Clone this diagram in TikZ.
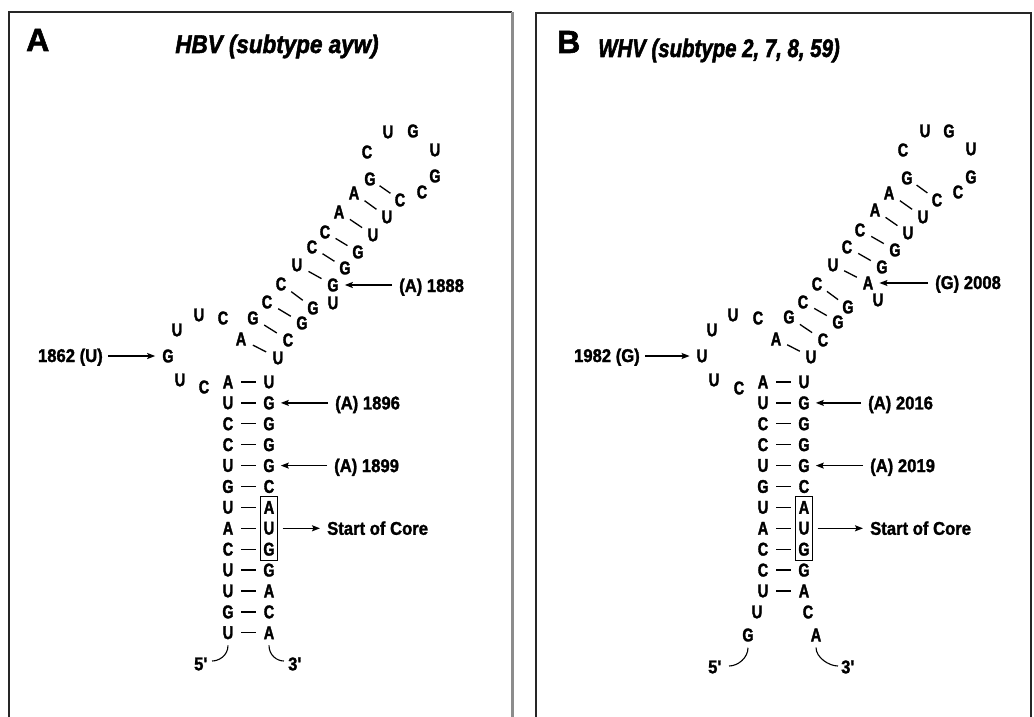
\documentclass[tikz,border=0pt]{standalone}
\usepackage{fontspec}
\setmainfont{Liberation Sans}
\newfontfamily\ntfont{Liberation Sans Bold}[FakeStretch=0.78,FakeBold=1.8]
\newfontfamily\lblfont{Liberation Sans Bold}[FakeStretch=0.9,FakeBold=1.5]
\newfontfamily\ttlfont{Liberation Sans Bold Italic}[FakeStretch=0.88,FakeBold=2]
\newfontfamily\ttlfontb{Liberation Sans Bold Italic}[FakeStretch=0.8,FakeBold=2]
\newfontfamily\tagfont{Liberation Sans Bold}[FakeBold=1.8]
\usetikzlibrary{calc,fit,arrows.meta}

\tikzset{
  nt/.style={inner sep=0pt, font=\ntfont\fontsize{18.5}{18.5}\selectfont},
  lbl/.style={inner sep=0pt, font=\lblfont\fontsize{18.5}{18.5}\selectfont},
  ttl/.style={inner sep=0pt, anchor=base, font=\ttlfont\fontsize{25.5}{25.5}\selectfont},
  ttlb/.style={ttl, font=\ttlfontb\fontsize{25.5}{25.5}\selectfont},
  panel/.style={inner sep=0pt, anchor=base west, font=\tagfont\fontsize{32}{32}\selectfont},
  frame/.style={line width=1.2pt, black!85},
  bond/.style={line width=1.3pt},
  arr/.style={line width=1.3pt, -{Stealth[length=8pt,width=6pt,inset=1.5pt]},
              shorten <=7pt, shorten >=6pt},
  tail/.style={line width=1.1pt},
  corebox/.style={draw, line width=0.8pt, inner xsep=2.5pt, inner ysep=4pt},
}
\newcommand\basepair[2]{\draw[bond] ($(#1)!0.32!(#2)$) -- ($(#1)!0.68!(#2)$);}

\begin{document}
\begin{tikzpicture}[x=1pt,y=-1pt]
\useasboundingbox (0,0) rectangle (1034,717);

% ---------- frames ----------
\draw[frame] (9,717) -- (9,12) -- (512,12);
\draw[line width=2.5pt, black!45] (512.5,12) -- (512.5,717);
\draw[frame] (536,717) -- (536,13) -- (1031,13) -- (1031,717);

% ---------- panel A : HBV ----------
\node[panel] (tagA) at (26,51) {A};
\node[ttl] (ttlA) at (277,53) {HBV (subtype ayw)};

% lower stem
\foreach \i/\l/\r in {0/A/U,1/U/G,2/C/G,3/C/G,4/U/G,5/G/C,6/U/A,7/A/U,8/C/G,9/U/G,10/U/A,11/G/C,12/U/A}{
  \node[nt] (aL\i) at (228,382+20.9*\i) {\l};
  \node[nt] (aR\i) at (269,382+20.9*\i) {\r};
  \basepair{aL\i}{aR\i}
}
% internal loop
\foreach \n/\x/\y/\t in {1/223/318/C,2/199/315/U,3/177/330/U,4/168/356/G,5/180/380/U,6/204/387/C}
  \node[nt] (aI\n) at (\x,\y) {\t};
% upper helix
\foreach \n/\x/\y/\t in {1/241/339/A,2/253/318/G,3/267/302/C,4/281/284/C,5/297/265/U,
                          6/312/247/C,7/325/232/C,8/339/212/A,9/354/193/A,10/370/179/G}
  \node[nt] (aH\n) at (\x,\y) {\t};
\foreach \n/\x/\y/\t in {1/278/358/U,2/288/340/C,3/302/323/G,4/313/308/G,5/333/285/G,
                          6/345/268/G,7/358/252/G,8/373/235/U,9/387/217/U,10/400/200/C}
  \node[nt] (aK\n) at (\x,\y) {\t};
\node[nt] (aKb) at (333,303) {U};
\foreach \n in {1,...,10} { \basepair{aH\n}{aK\n} }
% hairpin loop
\foreach \n/\x/\y/\t in {1/367/152/C,2/388/132/U,3/413/131/G,4/435/150/U,5/435/176/G,6/422/192/C}
  \node[nt] (aP\n) at (\x,\y) {\t};

% start codon box
\node[corebox, fit=(aR6)(aR8)] (aBox) {};

% annotations
\node[lbl, anchor=base west] (a1888) at (399,292) {(A) 1888};
\node[lbl, anchor=base east] (a1862) at (103,362) {1862 (U)};
\node[lbl, anchor=base west] (a1896) at (335,382+20.9*1+6.5) {(A) 1896};
\node[lbl, anchor=base west] (a1899) at (334,382+20.9*4+6.5) {(A) 1899};
\node[lbl, anchor=base west] (aCore) at (327,382+20.9*7+6.5) {Start of Core};
\draw[arr] (aK5 -| a1888.west) -- (aK5.east);
\draw[arr, shorten <=5pt, shorten >=7pt] (aI4 -| a1862.east) -- (aI4.west);
\draw[arr] (aR1 -| a1896.west) -- (aR1.east);
\draw[arr] (aR4 -| a1899.west) -- (aR4.east);
\draw[arr, shorten <=5pt, shorten >=7pt] (aR7 -| aBox.east) -- (aR7 -| aCore.west);

% strand ends
\node[lbl] (a5) at (201,664) {5\textquotesingle};
\node[lbl] (a3) at (295,664) {3\textquotesingle};
\draw[tail] ($(aL12.south)+(0,6)$) .. controls +(0,10) and +(7,0) .. ($(a5.east)+(4,-3)$);
\draw[tail] ($(aR12.south)+(0,6)$) .. controls +(0,10) and +(-7,0) .. ($(a3.west)+(-4,-3)$);

% ---------- panel B : WHV ----------
\node[panel] (tagB) at (557,53) {B};
\node[ttlb] (ttlB) at (719,57) {WHV (subtype 2, 7, 8, 59)};

\foreach \i/\l/\r in {0/A/U,1/U/G,2/C/G,3/C/G,4/U/G,5/G/C,6/U/A,7/A/U,8/C/G,9/C/G,10/U/A}{
  \node[nt] (bL\i) at (763,382+20.9*\i) {\l};
  \node[nt] (bR\i) at (804,382+20.9*\i) {\r};
  \basepair{bL\i}{bR\i}
}
\node[nt] (bL11) at (757,612) {U};
\node[nt] (bR11) at (808,612) {C};
\node[nt] (bL12) at (748,635) {G};
\node[nt] (bR12) at (816,635) {A};

\foreach \n/\x/\y/\t in {1/758/318/C,2/733/315/U,3/712/330/U,4/702/356/U,5/714/380/U,6/739/388/C}
  \node[nt] (bI\n) at (\x,\y) {\t};
\foreach \n/\x/\y/\t in {1/776/339/A,2/789/317/G,3/803/302/C,4/817/284/C,5/833/265/U,
                          6/847/247/C,7/860/230/C,8/875/210/A,9/889/193/A,10/907/178/G}
  \node[nt] (bH\n) at (\x,\y) {\t};
\foreach \n/\x/\y/\t in {1/811/357/U,2/823/340/C,3/838/322/G,4/848/307/G,5/868/283/A,
                          6/882/267/G,7/895/250/G,8/908/233/U,9/923/217/U,10/937/200/C}
  \node[nt] (bK\n) at (\x,\y) {\t};
\node[nt] (bKb) at (878,300) {U};
\foreach \n in {1,...,10} { \basepair{bH\n}{bK\n} }
\foreach \n/\x/\y/\t in {1/903/150/C,2/925/131/U,3/949/131/G,4/971/149/U,5/971/177/G,6/958/192/C}
  \node[nt] (bP\n) at (\x,\y) {\t};

\node[corebox, fit=(bR6)(bR8)] (bBox) {};

\node[lbl, anchor=base west] (b2008) at (935,289) {(G) 2008};
\node[lbl, anchor=base east] (b1982) at (640,362) {1982 (G)};
\node[lbl, anchor=base west] (b2016) at (868,382+20.9*1+6.5) {(A) 2016};
\node[lbl, anchor=base west] (b2019) at (870,382+20.9*4+6.5) {(A) 2019};
\node[lbl, anchor=base west] (bCore) at (870,382+20.9*7+6.5) {Start of Core};
\draw[arr] (bK5 -| b2008.west) -- (bK5.east);
\draw[arr, shorten <=5pt, shorten >=7pt] (bI4 -| b1982.east) -- (bI4.west);
\draw[arr] (bR1 -| b2016.west) -- (bR1.east);
\draw[arr] (bR4 -| b2019.west) -- (bR4.east);
\draw[arr, shorten <=5pt, shorten >=7pt] (bR7 -| bBox.east) -- (bR7 -| bCore.west);

\node[lbl] (b5) at (715,667) {5\textquotesingle};
\node[lbl] (b3) at (848,667) {3\textquotesingle};
\draw[tail] ($(bL12.south)+(0,6)$) .. controls +(0,10) and +(9,0) .. ($(b5.east)+(7,-1)$);
\draw[tail] ($(bR12.south)+(0,6)$) .. controls +(0,10) and +(-9,0) .. ($(b3.west)+(-3,-1)$);
\end{tikzpicture}
\end{document}
